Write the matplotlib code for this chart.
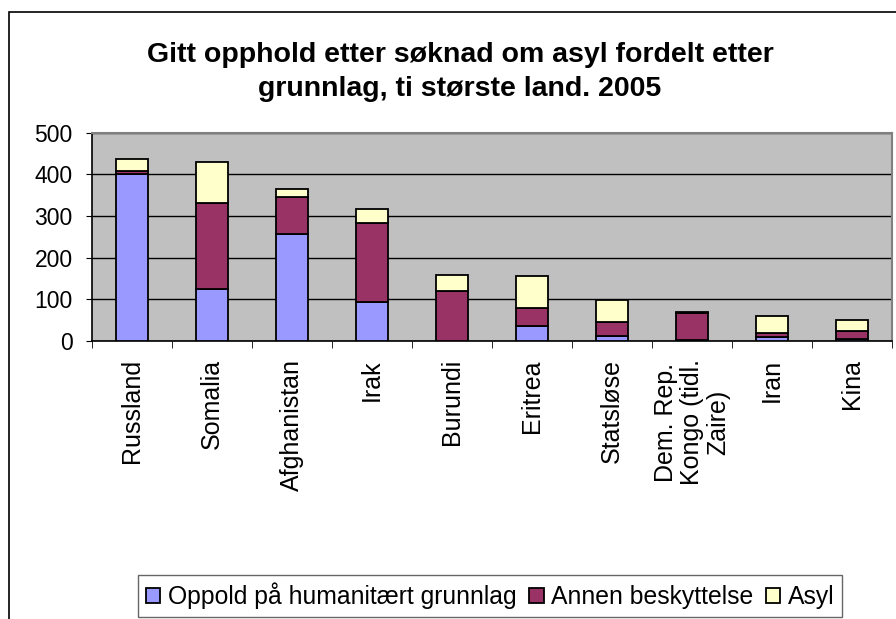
import matplotlib.pyplot as plt
from matplotlib.patches import Rectangle
import numpy as np

plt.rcParams['font.family'] = ['Liberation Sans', 'DejaVu Sans']

# Data
land = ['Russland', 'Somalia', 'Afghanistan', 'Irak', 'Burundi', 'Eritrea',
        'Statsløse', 'Dem. Rep.\nKongo (tidl.\nZaire)', 'Iran', 'Kina']
humanitaert = [400, 126, 257, 94, 0, 36, 13, 3, 9, 4]
annen = [8, 206, 88, 190, 120, 43, 33, 64, 11, 20]
asyl = [30, 98, 20, 34, 39, 76, 53, 3, 41, 27]
serier = ['Oppold på humanitært grunnlag', 'Annen beskyttelse', 'Asyl']
farger = ['#9999FF', '#993366', '#FFFFCC']
yticks = [0, 100, 200, 300, 400, 500]

W, H = 896, 619
fig = plt.figure(figsize=(W / 100, H / 100), dpi=100)

# ramme rundt diagrammet
fig.patches.append(Rectangle((9 / W, -0.1), 1.2, 1.1 - 12 / H, transform=fig.transFigure,
                             fill=False, edgecolor='black', linewidth=1.2))

ax = fig.add_axes([92 / W, 1 - 341 / H, (892 - 92) / W, (341 - 132.7) / H])
ax.set_facecolor('#C0C0C0')

x = np.arange(len(land))
bunn = np.zeros(len(land))
for verdier, navn, farge in zip([humanitaert, annen, asyl], serier, farger):
    ax.bar(x, verdier, width=0.39, bottom=bunn, color=farge, edgecolor='black',
           linewidth=1.3, label=navn, zorder=3)
    bunn += np.array(verdier)

ax.set_xlim(-0.5, len(land) - 0.5)
ax.set_ylim(0, 500)
ax.set_yticks(yticks)
ax.yaxis.grid(True, color='black', linewidth=1.0, zorder=1)
ax.tick_params(axis='y', labelsize=16.5, length=4, direction='out', pad=10)

ax.set_xticks(x)
ax.set_xticklabels(land, rotation=90, ha='center', va='top', multialignment='center',
                   linespacing=1.1)
ax.tick_params(axis='x', which='major', length=0, labelsize=18, pad=13)
ax.set_xticks(np.arange(-0.5, len(land)), minor=True)
ax.tick_params(axis='x', which='minor', length=5, direction='out')

for side in ['top', 'right']:
    ax.spines[side].set_color('#808080')
    ax.spines[side].set_linewidth(1.5)
for side in ['left', 'bottom']:
    ax.spines[side].set_color('black')
    ax.spines[side].set_linewidth(1.2)

fig.text(460 / W, 1 - 72 / H,
         'Gitt opphold etter søknad om asyl fordelt etter\ngrunnlag, ti største land. 2005',
         ha='center', va='center', fontsize=20.5, fontweight='bold', linespacing=1.4)

leg = fig.legend(loc='center', bbox_to_anchor=(490 / W, 1 - 596 / H), ncol=3,
                 fontsize=17.8, frameon=True, fancybox=False, handlelength=0.6,
                 handleheight=0.6, handletextpad=0.3, columnspacing=0.5,
                 borderpad=0.32, borderaxespad=0)
leg.get_frame().set_edgecolor('#404040')
leg.get_frame().set_linewidth(1.0)

fig.savefig('out.png', dpi=100)
